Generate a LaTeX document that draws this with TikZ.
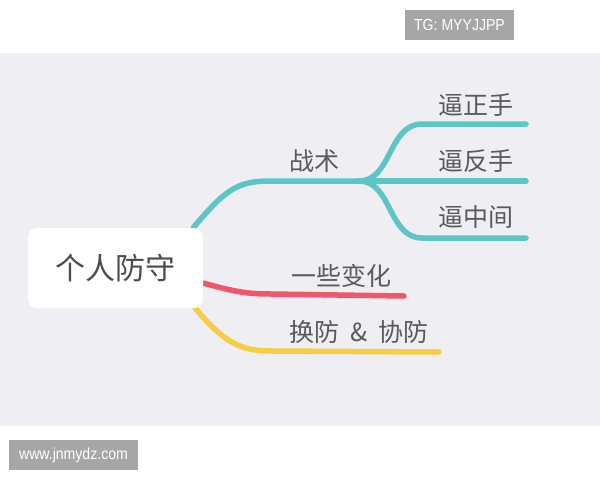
\documentclass[tikz,border=0pt]{standalone}
\usepackage{fontspec}
\setmainfont{Liberation Sans}
\newfontfamily\cjk{Noto Sans CJK SC}
\pgfdeclarelayer{back}
\pgfdeclarelayer{lines}
\pgfsetlayers{back,lines,main}
\definecolor{bggray}{HTML}{EFEEF2}
\definecolor{tagbox}{HTML}{A6A6A6}
\definecolor{teal}{HTML}{5EC5C6}
\definecolor{redb}{HTML}{F0576A}
\definecolor{yelb}{HTML}{F6CD45}
\definecolor{txt}{HTML}{5A5A5A}
\tikzset{
  x=1pt, y=-1pt,
  branch/.style={line width=5.5pt, line cap=round},
  lbl/.style={inner sep=0pt, text=txt, font=\cjk\fontsize{25}{25}\selectfont},
  tagtxt/.style={inner sep=0pt, text=white, font=\fontsize{16}{16}\selectfont, xscale=0.88, transform shape},
}
\begin{document}
\begin{tikzpicture}
\useasboundingbox (0,0) rectangle (600,480);
\begin{pgfonlayer}{back}
\fill[white] (0,0) rectangle (600,480);
\fill[bggray] (0,53) rectangle (600,426);
\end{pgfonlayer}
% tag boxes
\node[fill=tagbox, minimum width=109pt, minimum height=30pt, inner sep=0pt] (tg) at (459.5,25) {};
\node[tagtxt] (tgt) at (tg.center) {TG: MYYJJPP};
\node[fill=tagbox, minimum width=129pt, minimum height=30pt, inner sep=0pt] (www) at (73.5,455) {};
\node[tagtxt] (wwwt) at (www.center) {www.jnmydz.com};
% root
\node[fill=white, rounded corners=9pt, minimum width=175pt, minimum height=80pt, inner sep=0pt,
      text=txt!85!black, font=\cjk\fontsize{30}{30}\selectfont] (root) at (115.5,268) {个人防守};
% labels
\node[lbl] (zs) at (314,161) {战术};
\node[lbl] (z1) at (476,105) {逼正手};
\node[lbl] (z2) at (476,161) {逼反手};
\node[lbl] (z3) at (476,217) {逼中间};
\node[lbl] (bh) at (341,276) {一些变化};
\node[lbl] (hf) at (359,332) {换防\hspace{11pt}\&\hspace{11pt}协防};
% coordinates
\coordinate (tstart) at ([xshift=-10pt]root.north east);
\coordinate (split) at (359,181);
\coordinate (e1) at (526,124);
\coordinate (e2) at (526,181);
\coordinate (e3) at (526,238);
\coordinate (rstart) at ([yshift=-15pt]root.east);
\coordinate (rend) at (404,296);
\coordinate (ystart) at ([xshift=-8pt]root.south east);
\coordinate (yend) at (439,352);
\begin{pgfonlayer}{lines}
\draw[branch, teal] (tstart) .. controls (225,190) and (237,181) .. (270,181) -- (split);
\draw[branch, teal] (split) .. controls (392,181) and (388,124) .. (422,124) -- (e1);
\draw[branch, teal] (split) -- (e2);
\draw[branch, teal] (split) .. controls (392,181) and (388,238) .. (422,238) -- (e3);
\draw[branch, redb] (rstart) .. controls (235,292) and (248,294) .. (272,294) -- (rend);
\draw[branch, yelb] (ystart) .. controls (225,343) and (240,351) .. (272,351) -- (yend);
\end{pgfonlayer}
\end{tikzpicture}
\end{document}
